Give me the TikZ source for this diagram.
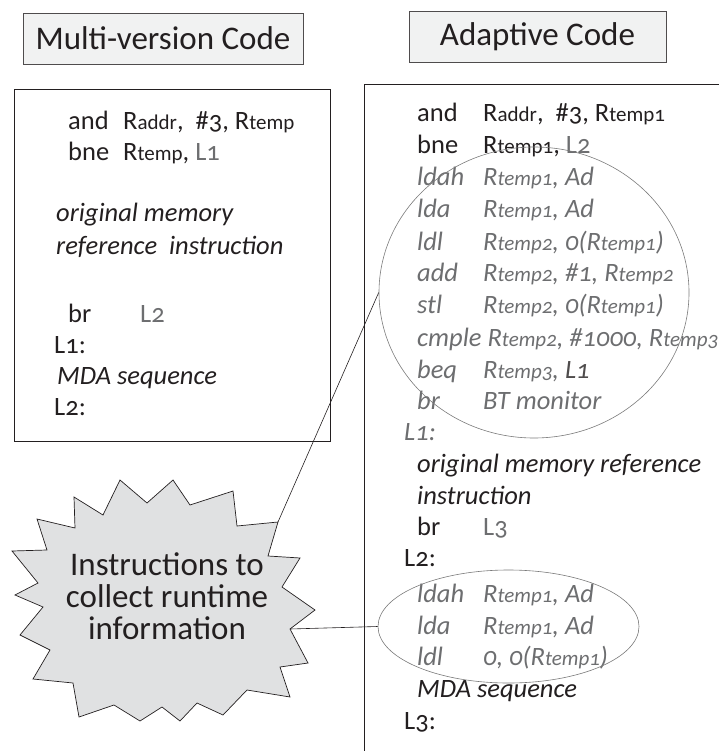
\documentclass[tikz,border=0pt]{standalone}
\usepackage{fontspec}
\setmainfont{Carlito}[Numbers=OldStyle]
\usetikzlibrary{shapes.geometric}
\definecolor{txtgray}{HTML}{6D6E70}
\definecolor{linegray}{HTML}{7A7A7A}
\definecolor{titlefill}{HTML}{F1F2F2}
\definecolor{starfill}{HTML}{E0E1E2}
\definecolor{ink}{HTML}{231F20}
\newcommand\Rsub[1]{R{\fontsize{21}{21}\selectfont #1}}
\newcommand\mnl[1]{\makebox[55pt][l]{#1}}
\newcommand\mnr[1]{\makebox[66pt][l]{#1}}
\tikzset{
  titlebox/.style={draw=ink!80, fill=titlefill, line width=0.9pt, inner sep=0pt,
    font=\fontsize{33}{33}\selectfont, text=ink},
  code/.style={anchor=base west, inner sep=0pt, font=\fontsize{26.5}{30}\selectfont, text=ink},
  gcode/.style={code, text=txtgray, font=\fontsize{26.5}{30}\selectfont\itshape},
  icode/.style={code, font=\fontsize{26.5}{30}\selectfont\itshape},
  thin/.style={draw=linegray, line width=0.6pt},
}
\begin{document}
\begin{tikzpicture}[x=1pt, y=-1pt]
\useasboundingbox (0,0) rectangle (719,751);
% titles
\node[titlebox, minimum width=280pt, minimum height=51pt] (t1) at (163,38.5) {Multi-version Code};
\node[titlebox, minimum width=257pt, minimum height=51pt] (t2) at (537.5,36.5) {Adaptive Code};
% left box
\draw[ink, line width=0.9pt] (14,89) rectangle (330,441);
\node[code] (l1) at (68,130) {\mnl{and}\Rsub{addr},\ \ \#3, \Rsub{temp}};
\node[code] (l2) at (68,161) {\mnl{bne}\Rsub{temp}, \textcolor{txtgray}{L1}};
\node[icode] (l3) at (56,222) {original memory};
\node[icode] (l4) at (56,254) {reference\ \ instruction};
\node[code] (l5) at (68,322) {\makebox[72pt][l]{br}\textcolor{txtgray}{L2}};
\node[code] (l6) at (54,353) {L1:};
\node[icode] (l7) at (57,384) {MDA sequence};
\node[code] (l8) at (54,415) {L2:};
% right box
\draw[ink, line width=0.9pt] (364,751) -- (364,84) -- (719,84);
\node[code] (r1) at (417,122) {\mnr{and}\Rsub{addr},\ \ \#3, \Rsub{temp1}};
\node[code] (r2) at (417,154) {\mnr{bne}\Rsub{temp1}, \textcolor{txtgray}{L2}};
\node[gcode] (r3) at (417,186) {\mnr{ldah}\Rsub{temp1}, Ad};
\node[gcode] (r4) at (417,218) {\mnr{lda}\Rsub{temp1}, Ad};
\node[gcode] (r5) at (417,250) {\mnr{ldl}\Rsub{temp2}, 0(\Rsub{temp1})};
\node[gcode] (r6) at (417,281) {\mnr{add}\Rsub{temp2}, \#1, \Rsub{temp2}};
\node[gcode] (r7) at (417,313) {\mnr{stl}\Rsub{temp2}, 0(\Rsub{temp1})};
\node[gcode] (r8) at (417,346) {cmple \Rsub{temp2}, \#1000, \Rsub{temp3}};
\node[gcode] (r9) at (417,378) {\mnr{beq}\Rsub{temp3}, \textcolor{ink!80}{L1}};
\node[gcode] (r10) at (417,409) {\mnr{br}BT monitor};
\node[gcode] (r11) at (404,440) {L1:};
\node[icode] (r12) at (417,472) {original memory reference};
\node[icode] (r13) at (417,504) {instruction};
\node[code] (r14) at (417,535) {\mnr{br}\textcolor{txtgray}{L3}};
\node[code] (r15) at (404,566) {L2:};
\node[gcode] (r16) at (417,602) {\mnr{ldah}\Rsub{temp1}, Ad};
\node[gcode] (r17) at (417,634) {\mnr{lda}\Rsub{temp1}, Ad};
\node[gcode] (r18) at (417,665) {\mnr{ldl}0, 0(\Rsub{temp1})};
\node[icode] (r19) at (417,697) {MDA sequence};
\node[code] (r20) at (404,729) {L3:};
% ellipses
\node[thin, ellipse, minimum width=310pt, minimum height=291pt, inner sep=0pt] (circ) at (534,292.5) {};
\node[thin, ellipse, minimum width=261pt, minimum height=113pt, inner sep=0pt] (sell) at (508.5,626.5) {};
% starburst
\draw[ink, fill=starfill, line width=0.7pt, line join=miter]
  (120,480) -- (147,503) -- (173,480) -- (190,505) -- (233,491) -- (237,526)
  -- (278,522) coordinate (s1) -- (268,556) -- (300,558) -- (282,587) -- (315,610)
  -- (290,629) coordinate (s2) -- (308,663) -- (280,667) -- (290,697) -- (247,690)
  -- (223,715) -- (197,703) -- (180,721) -- (162,707) -- (140,721) -- (114,705)
  -- (79,717) -- (73,683) -- (33,679) -- (50,650) -- (20,635) -- (43,607)
  -- (15,595) -- (38,583) -- (12,551) -- (47,550) -- (37,519) -- (75,528)
  -- (74,497) -- (103,515) -- cycle;
\node[align=center, inner sep=0pt, text=ink, font=\fontsize{33}{32}\selectfont] (st) at (167,596) {Instructions to\\collect runtime\\information};
% connectors
\draw[ink, line width=0.6pt] (s1) -- (circ.west);
\draw[ink, line width=0.6pt] (s2) -- (sell.west);
\end{tikzpicture}
\end{document}
